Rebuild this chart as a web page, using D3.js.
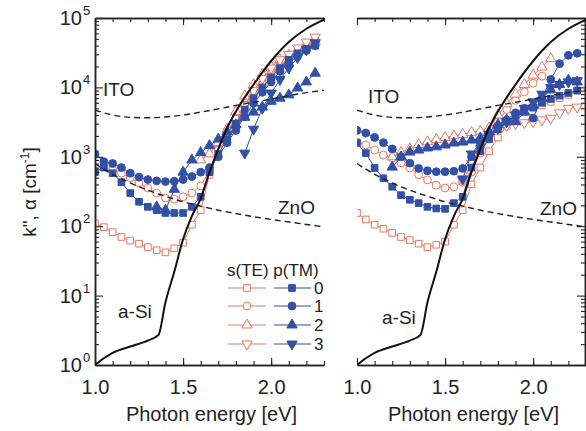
<!DOCTYPE html>
<html>
<head>
<meta charset="utf-8">
<script src="https://cdn.jsdelivr.net/npm/d3@7"></script>
<style>
  body { margin: 0; background: #fff; }
  text { font-family: "Liberation Sans", Arial, sans-serif; fill: #222; }
</style>
</head>
<body>
<div id="chart"></div>
<script>
// photon energy grid (eV)
var energy = [1.00,1.05,1.10,1.15,1.20,1.25,1.30,1.35,1.40,1.45,1.50,1.55,1.60,1.65,1.70,1.75,1.80,1.85,1.90,1.95,2.00,2.05,2.10,2.15,2.20,2.25];
var N = null;

// reference curves [E, alpha]
var aSi = [[1.0,1.0],[1.05,1.25],[1.1,1.5],[1.2,1.85],[1.3,2.25],[1.36,2.7],[1.4,8],[1.45,22],[1.5,65],[1.55,140],[1.6,250],[1.65,600],[1.7,1300],[1.75,2600],[1.8,4500],[1.9,11000],[2.0,24000],[2.1,45000],[2.2,70000],[2.3,95000]];
var ito = [[1.0,4700],[1.1,4000],[1.2,3700],[1.3,3650],[1.4,3750],[1.5,4000],[1.6,4400],[1.7,4900],[1.8,5500],[1.9,6100],[2.0,6800],[2.1,7600],[2.2,8400],[2.3,9100]];
var zno = [[1.0,800],[1.1,560],[1.2,420],[1.3,330],[1.4,270],[1.5,225],[1.6,195],[1.7,170],[1.8,152],[1.9,137],[2.0,125],[2.1,115],[2.2,106],[2.3,98]];

// left panel, s(TE) orders 0-3
var leftS0 = [110,97,82,70,62,56,50,45,42,48,58,105,170,550,1300,2300,3700,5600,8200,11500,15500,20000,26000,32000,39000,46000];
var leftS1 = [600,720,650,580,500,420,355,300,255,245,265,300,380,620,1250,2200,3500,5300,7800,11000,15000,20000,26000,32000,38000,44000];
var leftS2 = [N,N,N,N,N,N,N,N,N,N,N,N,900,1100,1600,2500,4500,7500,11000,15500,20000,25000,29000,34000,40000,46000];
var leftS3 = [N,N,N,N,N,N,N,N,N,N,N,N,N,N,N,N,3000,5500,9000,13500,19000,25000,30000,37000,45000,53000];
// left panel, p(TM) orders 0-3
var leftP0 = [600,700,580,430,300,225,190,170,155,155,155,190,265,600,1100,1800,3000,4800,7000,10000,14000,19000,25000,31000,36000,40000];
var leftP1 = [1100,850,800,700,580,510,470,450,440,445,470,520,600,700,1000,1600,2400,3800,5900,8500,12000,17000,22000,28000,34000,40000];
var leftP2 = [N,N,N,N,N,N,N,190,170,340,600,900,1150,1450,1800,2300,2900,3700,4400,5200,6300,7000,7800,9800,12000,16000];
var leftP3 = [N,N,N,N,N,N,N,N,N,N,N,N,N,N,N,N,N,1130,2500,5000,8300,13000,19000,27000,35000,44000];

// right panel, s(TE) orders 0-3
var rightS0 = [155,125,105,92,80,70,63,56,50,54,60,105,170,400,700,1200,1900,2800,3800,4500,5000,5500,6200,7000,7800,9000];
var rightS1 = [1630,1480,1250,1060,960,820,690,550,465,390,355,370,435,600,1130,1900,3200,4800,6500,8600,11500,14500,N,N,N,N];
var rightS2 = [N,N,N,N,1000,1150,1300,1500,1650,1780,1900,2000,2100,2250,2350,2600,4000,5800,8000,11000,15000,19600,26000,N,N,N];
var rightS3 = [N,N,N,N,N,N,N,N,N,N,N,N,450,800,1300,1900,2500,2800,3000,3100,3200,3400,3600,4300,5000,5200];
// right panel, p(TM) orders 0-3
var rightP0 = [1580,1130,690,490,370,280,240,215,190,180,178,215,265,700,1200,1800,2500,3200,3900,4500,5200,6000,6800,7600,8300,9000];
var rightP1 = [2400,2200,1900,1600,1300,1000,810,680,630,610,610,620,680,1000,1500,2100,2700,3400,4300,5000,3600,7000,13000,22000,29000,31000];
var rightP2 = [N,N,N,N,710,1000,1170,1250,1340,1390,1480,1580,1630,1740,1870,2300,2900,3400,3200,4400,5500,7000,9200,11000,12700,12000];
var rightP3 = [N,N,N,N,N,N,N,N,N,N,N,N,480,1100,1600,2100,2600,3200,4000,5000,6200,8000,10000,11000,12000,12500];

var orders = ["0", "1", "2", "3"];
var xTickLabels = [1.0, 1.5, 2.0];
var yDecades = [1, 10, 100, 1000, 10000, 100000];

var red = "#e8765f", blue = "#3150a6", ink = "#222";
var width = 586, height = 431;

var svg = d3.select("#chart").append("svg")
	.attr("width", width)
	.attr("height", height);

var y = d3.scaleLog().domain([1, 1e5]).range([365, 18]);
var panels = [
	{id: "L", x: d3.scaleLinear().domain([1.0, 2.3]).range([95, 324]), side: "left",
	 s: [leftS0, leftS1, leftS2, leftS3], p: [leftP0, leftP1, leftP2, leftP3]},
	{id: "R", x: d3.scaleLinear().domain([1.0, 2.3]).range([357, 586]), side: "right",
	 s: [rightS0, rightS1, rightS2, rightS3], p: [rightP0, rightP1, rightP2, rightP3]}
];

var shapes = [d3.symbolSquare, d3.symbolCircle, d3.symbolTriangle, d3.symbolTriangle];
var sizes = [44, 48, 46, 46];

function marker(g, i, cx, cy, filled) {
	g.append("path")
		.attr("d", d3.symbol().type(shapes[i]).size(sizes[i])())
		.attr("transform", "translate(" + cx + "," + cy + ")" + (i == 3 ? " rotate(180)" : ""))
		.attr("fill", filled ? blue : "#fff")
		.attr("stroke", filled ? blue : red)
		.attr("stroke-width", 1);
}

var minorTicks = [];
for (var d = 0; d < 5; d++) {
	for (var m = 2; m < 10; m++) minorTicks.push(m * Math.pow(10, d));
}
var xMinor = [];
for (var k = 0; k <= 13; k++) xMinor.push(1 + k * 0.1);

panels.forEach(function (pn) {
	var x = pn.x;
	var x0 = x.range()[0], x1 = x.range()[1];

	svg.append("clipPath").attr("id", "clip" + pn.id)
		.append("rect").attr("x", x0).attr("y", 18).attr("width", x1 - x0).attr("height", 347);

	var plot = svg.append("g").attr("clip-path", "url(#clip" + pn.id + ")");

	// data series: s(TE) open red, p(TM) filled blue
	var lineGen = d3.line()
		.defined(function (d) { return d[1] != null; })
		.x(function (d) { return x(d[0]); })
		.y(function (d) { return y(d[1]); });

	[[pn.s, false], [pn.p, true]].forEach(function (grp) {
		grp[0].forEach(function (vals, i) {
			var pts = energy.map(function (e, j) { return [e, vals[j]]; });
			plot.append("path")
				.attr("d", lineGen(pts))
				.attr("fill", "none")
				.attr("stroke", grp[1] ? blue : red)
				.attr("stroke-width", 1);
			pts.forEach(function (p) {
				if (p[1] != null) marker(plot, i, x(p[0]), y(p[1]), grp[1]);
			});
		});
	});

	var curve = d3.line().curve(d3.curveMonotoneX)
		.x(function (d) { return x(d[0]); })
		.y(function (d) { return y(d[1]); });
	plot.append("path").attr("d", curve(ito))
		.attr("fill", "none").attr("stroke", ink).attr("stroke-width", 1.4).attr("stroke-dasharray", "6,4");
	plot.append("path").attr("d", curve(zno))
		.attr("fill", "none").attr("stroke", ink).attr("stroke-width", 1.4).attr("stroke-dasharray", "6,4");
	plot.append("path").attr("d", curve(aSi))
		.attr("fill", "none").attr("stroke", "#111").attr("stroke-width", 2);

	// x axes, ticks pointing inward
	svg.append("g").attr("transform", "translate(0,365)")
		.call(d3.axisBottom(x).tickValues(xMinor).tickSize(-4).tickSizeOuter(0).tickFormat(""));
	svg.append("g").attr("transform", "translate(0,365)")
		.call(d3.axisBottom(x).tickValues(xTickLabels).tickSize(-7).tickSizeOuter(0).tickPadding(15).tickFormat(d3.format(".1f")));
	svg.append("g").attr("transform", "translate(0,18)")
		.call(d3.axisTop(x).tickValues(xMinor).tickSize(-4).tickSizeOuter(0).tickFormat(""));
	svg.append("g").attr("transform", "translate(0,18)")
		.call(d3.axisTop(x).tickValues(xTickLabels).tickSize(-7).tickSizeOuter(0).tickFormat(""));

	// y axis on the outer side of each panel only
	var ax = pn.side == "left" ? d3.axisLeft : d3.axisRight;
	var yx = pn.side == "left" ? x0 : x1 - 1;
	svg.append("g").attr("transform", "translate(" + yx + ",0)")
		.call(ax(y).tickValues(minorTicks).tickSize(-4).tickSizeOuter(0).tickFormat(""));
	svg.append("g").attr("transform", "translate(" + yx + ",0)")
		.call(ax(y).tickValues(yDecades).tickSize(-8).tickSizeOuter(0).tickFormat(""));

	svg.append("text")
		.attr("x", (x0 + x1) / 2 + 2)
		.attr("y", 421)
		.attr("text-anchor", "middle")
		.attr("font-size", "20px")
		.text("Photon energy [eV]");
});

svg.selectAll(".domain").attr("stroke", ink).attr("stroke-width", 1.5);
svg.selectAll(".tick line").attr("stroke", ink).attr("stroke-width", 1.1);
svg.selectAll(".tick text").attr("font-size", "20px").attr("fill", ink)
	.attr("font-family", "Liberation Sans, Arial, sans-serif");

// decade labels on the left axis
yDecades.forEach(function (v, i) {
	svg.append("text")
		.attr("x", 82)
		.attr("y", y(v) + 7)
		.attr("text-anchor", "end")
		.attr("font-size", "20px")
		.text("10");
	svg.append("text")
		.attr("x", 83)
		.attr("y", y(v) - 3)
		.attr("font-size", "13px")
		.text(i);
});

// y label
svg.append("text")
	.attr("transform", "translate(36,192) rotate(-90)")
	.attr("text-anchor", "middle")
	.attr("font-size", "19px")
	.html("k\", \u03b1 [cm<tspan dy='-7' font-size='12px'>-1</tspan><tspan dy='7'>]</tspan>");

// material labels
var labels = [
	{t: "ITO", x: 103, y: 96}, {t: "ZnO", x: 278, y: 214}, {t: "a-Si", x: 118, y: 318},
	{t: "ITO", x: 368, y: 103}, {t: "ZnO", x: 540, y: 215}, {t: "a-Si", x: 382, y: 324}
];
labels.forEach(function (l) {
	svg.append("text").attr("x", l.x).attr("y", l.y).attr("font-size", "19px").text(l.t);
});

// legend
svg.append("text").attr("x", 227).attr("y", 276).attr("font-size", "17px").text("s(TE) p(TM)");
var legRows = [288, 306, 325, 344];
orders.forEach(function (o, i) {
	var ly = legRows[i];
	svg.append("line").attr("x1", 228).attr("x2", 266).attr("y1", ly).attr("y2", ly)
		.attr("stroke", red).attr("stroke-width", 1.2);
	marker(svg, i, 247, ly, false);
	svg.append("line").attr("x1", 274).attr("x2", 311).attr("y1", ly).attr("y2", ly)
		.attr("stroke", blue).attr("stroke-width", 1.2);
	marker(svg, i, 292, ly, true);
	svg.append("text").attr("x", 314).attr("y", ly + 6).attr("font-size", "17px").text(o);
});
</script>
</body>
</html>
